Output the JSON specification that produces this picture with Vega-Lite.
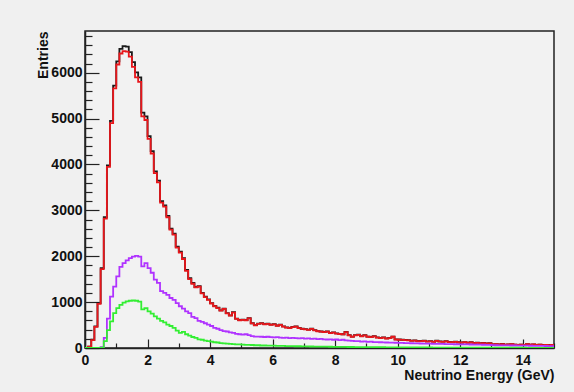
{
  "$schema": "https://vega.github.io/schema/vega-lite/v6.json",
  "width": 469,
  "height": 317,
  "autosize": {"type": "none"},
  "padding": {"left": 85, "top": 31, "right": 20, "bottom": 44},
  "background": "#f0f0f0",
  "view": {"stroke": "#222222", "strokeWidth": 1.5, "fill": "#f2f2f2"},
  "config": {
    "font": "Liberation Sans",
    "axis": {"grid": false, "domainColor": "#222222", "domainWidth": 1.5, "tickColor": "#222222", "tickWidth": 1.2,
             "labelFont": "Liberation Sans", "labelFontWeight": "bold", "labelFontSize": 14, "labelColor": "#111111",
             "titleFont": "Liberation Sans", "titleFontWeight": "bold", "titleFontSize": 14, "titleColor": "#111111"}
  },
  "data": {"values": [
    {"e":0.0,"k":0,"r":0,"p":0,"g":0},
    {"e":0.1,"k":30,"r":30,"p":0,"g":0},
    {"e":0.2,"k":180,"r":170,"p":0,"g":0},
    {"e":0.3,"k":470,"r":460,"p":0,"g":0},
    {"e":0.4,"k":980,"r":960,"p":0,"g":0},
    {"e":0.5,"k":1740,"r":1720,"p":20,"g":10},
    {"e":0.6,"k":2850,"r":2820,"p":220,"g":150},
    {"e":0.7,"k":3980,"r":3950,"p":640,"g":390},
    {"e":0.8,"k":4950,"r":4900,"p":1120,"g":580},
    {"e":0.9,"k":5720,"r":5660,"p":1340,"g":760},
    {"e":1.0,"k":6250,"r":6180,"p":1560,"g":870},
    {"e":1.1,"k":6520,"r":6420,"p":1770,"g":940},
    {"e":1.2,"k":6580,"r":6470,"p":1850,"g":990},
    {"e":1.3,"k":6570,"r":6460,"p":1910,"g":1015},
    {"e":1.4,"k":6450,"r":6350,"p":1960,"g":1030},
    {"e":1.5,"k":6230,"r":6130,"p":1990,"g":1035},
    {"e":1.6,"k":6010,"r":5900,"p":2010,"g":1030},
    {"e":1.7,"k":5900,"r":5800,"p":1990,"g":1010},
    {"e":1.8,"k":5130,"r":5050,"p":1780,"g":840},
    {"e":1.9,"k":5050,"r":4970,"p":1850,"g":870},
    {"e":2.0,"k":4620,"r":4560,"p":1740,"g":800},
    {"e":2.1,"k":4290,"r":4240,"p":1640,"g":750},
    {"e":2.2,"k":3850,"r":3810,"p":1490,"g":690},
    {"e":2.3,"k":3650,"r":3610,"p":1420,"g":640},
    {"e":2.4,"k":3200,"r":3170,"p":1240,"g":590},
    {"e":2.5,"k":3110,"r":3080,"p":1200,"g":560},
    {"e":2.6,"k":2880,"r":2850,"p":1160,"g":510},
    {"e":2.7,"k":2600,"r":2580,"p":1090,"g":480},
    {"e":2.8,"k":2490,"r":2470,"p":1050,"g":440},
    {"e":2.9,"k":2210,"r":2190,"p":980,"g":380},
    {"e":3.0,"k":2100,"r":2080,"p":910,"g":330},
    {"e":3.1,"k":1960,"r":1940,"p":860,"g":350},
    {"e":3.2,"k":1700,"r":1680,"p":800,"g":300},
    {"e":3.3,"k":1520,"r":1500,"p":760,"g":270},
    {"e":3.4,"k":1420,"r":1400,"p":680,"g":240},
    {"e":3.5,"k":1330,"r":1320,"p":650,"g":220},
    {"e":3.6,"k":1350,"r":1340,"p":590,"g":190},
    {"e":3.7,"k":1200,"r":1190,"p":570,"g":180},
    {"e":3.8,"k":1120,"r":1110,"p":540,"g":160},
    {"e":3.9,"k":1060,"r":1050,"p":510,"g":150},
    {"e":4.0,"k":980,"r":970,"p":480,"g":140},
    {"e":4.1,"k":920,"r":910,"p":440,"g":125},
    {"e":4.2,"k":880,"r":870,"p":420,"g":120},
    {"e":4.3,"k":820,"r":815,"p":390,"g":105},
    {"e":4.4,"k":860,"r":850,"p":370,"g":100},
    {"e":4.5,"k":760,"r":755,"p":360,"g":95},
    {"e":4.6,"k":710,"r":705,"p":340,"g":90},
    {"e":4.7,"k":780,"r":770,"p":330,"g":85},
    {"e":4.8,"k":640,"r":635,"p":310,"g":80},
    {"e":4.9,"k":610,"r":605,"p":300,"g":80},
    {"e":5.0,"k":620,"r":615,"p":290,"g":75},
    {"e":5.1,"k":610,"r":605,"p":300,"g":70},
    {"e":5.2,"k":650,"r":645,"p":280,"g":70},
    {"e":5.3,"k":540,"r":535,"p":260,"g":65},
    {"e":5.4,"k":500,"r":495,"p":250,"g":60},
    {"e":5.5,"k":530,"r":525,"p":250,"g":60},
    {"e":5.6,"k":540,"r":535,"p":245,"g":55},
    {"e":5.7,"k":520,"r":515,"p":240,"g":55},
    {"e":5.8,"k":530,"r":525,"p":245,"g":50},
    {"e":5.9,"k":510,"r":505,"p":235,"g":50},
    {"e":6.0,"k":520,"r":515,"p":230,"g":50},
    {"e":6.1,"k":490,"r":485,"p":235,"g":45},
    {"e":6.2,"k":510,"r":505,"p":225,"g":45},
    {"e":6.3,"k":470,"r":465,"p":220,"g":45},
    {"e":6.4,"k":450,"r":445,"p":225,"g":40},
    {"e":6.5,"k":440,"r":435,"p":215,"g":40},
    {"e":6.6,"k":460,"r":455,"p":220,"g":40},
    {"e":6.7,"k":470,"r":465,"p":215,"g":38},
    {"e":6.8,"k":440,"r":435,"p":210,"g":38},
    {"e":6.9,"k":420,"r":415,"p":215,"g":36},
    {"e":7.0,"k":410,"r":405,"p":205,"g":35},
    {"e":7.1,"k":400,"r":395,"p":210,"g":35},
    {"e":7.2,"k":420,"r":415,"p":200,"g":33},
    {"e":7.3,"k":390,"r":385,"p":205,"g":32},
    {"e":7.4,"k":370,"r":365,"p":195,"g":30},
    {"e":7.5,"k":360,"r":355,"p":200,"g":30},
    {"e":7.6,"k":350,"r":345,"p":190,"g":28},
    {"e":7.7,"k":360,"r":355,"p":185,"g":28},
    {"e":7.8,"k":330,"r":325,"p":190,"g":27},
    {"e":7.9,"k":340,"r":335,"p":180,"g":26},
    {"e":8.0,"k":320,"r":315,"p":185,"g":25},
    {"e":8.1,"k":310,"r":305,"p":170,"g":25},
    {"e":8.2,"k":300,"r":295,"p":180,"g":24},
    {"e":8.3,"k":350,"r":345,"p":165,"g":23},
    {"e":8.4,"k":280,"r":275,"p":160,"g":22},
    {"e":8.5,"k":250,"r":245,"p":155,"g":22},
    {"e":8.6,"k":280,"r":275,"p":150,"g":21},
    {"e":8.7,"k":290,"r":285,"p":148,"g":20},
    {"e":8.8,"k":260,"r":255,"p":140,"g":20},
    {"e":8.9,"k":280,"r":275,"p":145,"g":19},
    {"e":9.0,"k":250,"r":245,"p":135,"g":18},
    {"e":9.1,"k":240,"r":235,"p":138,"g":18},
    {"e":9.2,"k":260,"r":255,"p":130,"g":17},
    {"e":9.3,"k":230,"r":225,"p":128,"g":17},
    {"e":9.4,"k":220,"r":215,"p":125,"g":16},
    {"e":9.5,"k":230,"r":225,"p":122,"g":16},
    {"e":9.6,"k":210,"r":205,"p":120,"g":15},
    {"e":9.7,"k":220,"r":215,"p":118,"g":15},
    {"e":9.8,"k":250,"r":245,"p":116,"g":15},
    {"e":9.9,"k":190,"r":185,"p":114,"g":14},
    {"e":10.0,"k":185,"r":180,"p":112,"g":14},
    {"e":10.1,"k":180,"r":175,"p":110,"g":14},
    {"e":10.2,"k":175,"r":170,"p":108,"g":13},
    {"e":10.3,"k":170,"r":165,"p":106,"g":13},
    {"e":10.4,"k":160,"r":155,"p":104,"g":13},
    {"e":10.5,"k":165,"r":160,"p":102,"g":12},
    {"e":10.6,"k":150,"r":145,"p":100,"g":12},
    {"e":10.7,"k":155,"r":150,"p":98,"g":12},
    {"e":10.8,"k":160,"r":155,"p":96,"g":11},
    {"e":10.9,"k":145,"r":140,"p":95,"g":11},
    {"e":11.0,"k":150,"r":145,"p":94,"g":11},
    {"e":11.1,"k":140,"r":135,"p":92,"g":10},
    {"e":11.2,"k":160,"r":155,"p":90,"g":10},
    {"e":11.3,"k":145,"r":140,"p":89,"g":10},
    {"e":11.4,"k":140,"r":135,"p":88,"g":10},
    {"e":11.5,"k":150,"r":145,"p":86,"g":9},
    {"e":11.6,"k":135,"r":130,"p":85,"g":9},
    {"e":11.7,"k":130,"r":125,"p":84,"g":9},
    {"e":11.8,"k":140,"r":135,"p":82,"g":9},
    {"e":11.9,"k":125,"r":120,"p":81,"g":8},
    {"e":12.0,"k":120,"r":115,"p":80,"g":8},
    {"e":12.1,"k":130,"r":125,"p":78,"g":8},
    {"e":12.2,"k":115,"r":110,"p":77,"g":8},
    {"e":12.3,"k":125,"r":120,"p":76,"g":8},
    {"e":12.4,"k":110,"r":105,"p":75,"g":7},
    {"e":12.5,"k":115,"r":110,"p":74,"g":7},
    {"e":12.6,"k":105,"r":100,"p":72,"g":7},
    {"e":12.7,"k":110,"r":105,"p":71,"g":7},
    {"e":12.8,"k":100,"r":95,"p":70,"g":7},
    {"e":12.9,"k":105,"r":100,"p":69,"g":6},
    {"e":13.0,"k":80,"r":78,"p":62,"g":6},
    {"e":13.1,"k":85,"r":82,"p":60,"g":6},
    {"e":13.2,"k":80,"r":78,"p":59,"g":6},
    {"e":13.3,"k":90,"r":86,"p":58,"g":6},
    {"e":13.4,"k":75,"r":72,"p":57,"g":5},
    {"e":13.5,"k":80,"r":78,"p":56,"g":5},
    {"e":13.6,"k":85,"r":82,"p":55,"g":5},
    {"e":13.7,"k":75,"r":72,"p":54,"g":5},
    {"e":13.8,"k":70,"r":68,"p":53,"g":5},
    {"e":13.9,"k":75,"r":72,"p":52,"g":5},
    {"e":14.0,"k":70,"r":68,"p":51,"g":5},
    {"e":14.1,"k":85,"r":82,"p":50,"g":4},
    {"e":14.2,"k":75,"r":72,"p":49,"g":4},
    {"e":14.3,"k":80,"r":78,"p":48,"g":4},
    {"e":14.4,"k":70,"r":68,"p":47,"g":4},
    {"e":14.5,"k":75,"r":72,"p":46,"g":4},
    {"e":14.6,"k":65,"r":62,"p":45,"g":4},
    {"e":14.7,"k":70,"r":68,"p":44,"g":4},
    {"e":14.8,"k":65,"r":62,"p":43,"g":4},
    {"e":14.9,"k":70,"r":68,"p":42,"g":3},
    {"e":15.0,"k":70,"r":68,"p":42,"g":3}
  ]},
  "transform": [{"fold": ["k", "r", "p", "g"], "as": ["s", "v"]}],
  "mark": {"type": "line", "interpolate": "step-after", "strokeWidth": 1.8, "clip": true},
  "encoding": {
    "x": {"field": "e", "type": "quantitative", "scale": {"domain": [0, 15], "nice": false, "zero": false},
          "axis": {"title": "Neutrino Energy (GeV)", "format": "d", "values": [0,0.5,1,1.5,2,2.5,3,3.5,4,4.5,5,5.5,6,6.5,7,7.5,8,8.5,9,9.5,10,10.5,11,11.5,12,12.5,13,13.5,14,14.5,15],
                   "labelExpr": "datum.value % 2 === 0 && datum.value < 15 ? datum.label : ''",
                   "tickSize": {"condition": {"test": "datum.value % 2 === 0", "value": -9}, "value": -5},
                   "labelPadding": 14, "labelFlush": false, "labelOverlap": false,
                   "titleAnchor": "end", "titleAlign": "right", "titleX": 469, "titleY": 31, "titleBaseline": "alphabetic"}},
    "y": {"field": "v", "type": "quantitative", "scale": {"domain": [0, 6910], "nice": false},
          "axis": {"title": "Entries", "values": [0,200,400,600,800,1000,1200,1400,1600,1800,2000,2200,2400,2600,2800,3000,3200,3400,3600,3800,4000,4200,4400,4600,4800,5000,5200,5400,5600,5800,6000,6200,6400,6600,6800],
                   "labelExpr": "datum.value % 1000 === 0 ? datum.label : ''",
                   "format": "d",
                   "tickSize": {"condition": {"test": "datum.value % 1000 === 0", "value": -14}, "value": -7},
                   "labelPadding": 17, "labelFlush": false, "labelOverlap": false,
                   "titleAnchor": "end", "titleAlign": "right", "titleAngle": -90, "titleX": -38, "titleY": 0, "titleBaseline": "alphabetic"}},
    "color": {"field": "s", "type": "nominal", "legend": null,
              "scale": {"domain": ["k", "r", "p", "g"], "range": ["#1a1a1a", "#e8161b", "#b033ff", "#33ee33"]}}
  }
}
